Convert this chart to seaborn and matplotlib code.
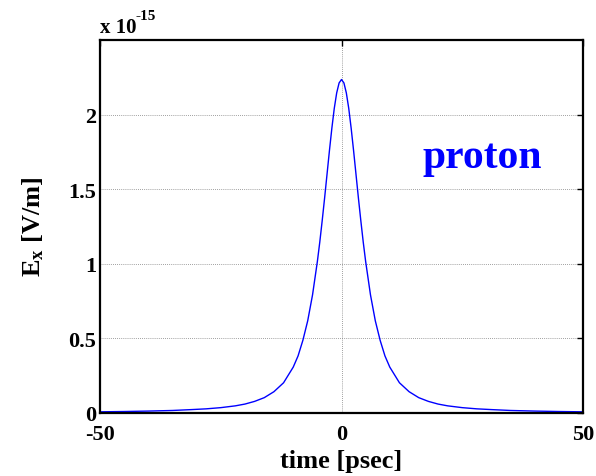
import numpy as np
import pandas as pd
import matplotlib
matplotlib.use("Agg")
import matplotlib.pyplot as plt
import seaborn as sns

# Transverse field of a passing proton, in units of 1e-15 V/m
t_half = [0, 0.5, 1, 1.5, 2, 2.5, 3, 3.5, 4, 4.5, 5, 6, 7, 8, 9, 10, 12, 14, 16,
          18, 20, 22, 25, 28, 31, 35, 40, 45, 50]
ex_half = [2.235, 2.212, 2.145, 2.041, 1.908, 1.758, 1.599, 1.44, 1.288, 1.144,
           1.014, 0.79, 0.616, 0.485, 0.38, 0.305, 0.20, 0.14, 0.10, 0.075,
           0.057, 0.045, 0.033, 0.025, 0.020, 0.014, 0.010, 0.007, 0.005]
x_ticks = [-50, 0, 50]
y_ticks = [0, 0.5, 1, 1.5, 2]
y_tick_labels = ["0", "0.5", "1", "1.5", "2"]

time_ps = [-v for v in t_half[:0:-1]] + t_half
ex_vals = ex_half[:0:-1] + ex_half
df = pd.DataFrame({"time": time_ps, "Ex": ex_vals})

sns.set_style("white")
plt.rcParams["font.family"] = ["Liberation Serif", "DejaVu Serif"]
plt.rcParams["font.weight"] = "bold"
plt.rcParams["text.color"] = "black"
plt.rcParams["axes.labelcolor"] = "black"
plt.rcParams["axes.unicode_minus"] = False
plt.rcParams["mathtext.fontset"] = "custom"
plt.rcParams["mathtext.rm"] = "Liberation Serif:bold"
plt.rcParams["mathtext.it"] = "Liberation Serif:bold"
plt.rcParams["mathtext.bf"] = "Liberation Serif:bold"

fig = plt.figure(figsize=(5.96, 4.77), dpi=100)
ax = fig.add_axes([0.168, 0.133, 0.81, 0.781])

sns.lineplot(data=df, x="time", y="Ex", ax=ax, color=(0, 0, 1), lw=1.0,
             estimator=None, sort=True)

ax.set_xlim(-50, 50)
ax.set_ylim(0, 2.5)
ax.set_xticks(x_ticks)
ax.set_xticklabels([str(v) for v in x_ticks])
ax.set_yticks(y_ticks)
ax.set_yticklabels(y_tick_labels)

ax.grid(True, color="#808080", linestyle=(0, (1, 1.5)), linewidth=0.6)
ax.set_axisbelow(True)

ax.tick_params(direction="in", length=4, width=1, top=True, right=True,
               labelsize=16, colors="black")
ax.tick_params(axis="x", pad=8)
ax.tick_params(axis="y", pad=3)
for lab in ax.get_xticklabels() + ax.get_yticklabels():
    lab.set_fontweight("bold")

for side in ["left", "bottom", "top", "right"]:
    ax.spines[side].set_visible(True)
    ax.spines[side].set_color("black")
    ax.spines[side].set_linewidth(1.6)

ax.set_xlabel("time [psec]", fontsize=19, fontweight="bold", labelpad=4,
              color="black")
ax.set_ylabel("E$_x$ [V/m]", fontsize=19, fontweight="bold", labelpad=16,
              color="black")

# Scale factor for the y axis, with a plain-hyphen exponent
ax.text(0.0, 1.021, "x 10", transform=ax.transAxes, fontsize=15,
        fontweight="bold", ha="left", va="baseline", color="black")
ax.text(0.074, 1.056, "-15", transform=ax.transAxes, fontsize=11,
        fontweight="bold", ha="left", va="baseline", color="black")

ax.text(29.2, 1.65, "proton", color=(0, 0, 1), fontsize=30, fontweight="bold",
        ha="center", va="baseline")

fig.savefig("out.png", dpi=100)
